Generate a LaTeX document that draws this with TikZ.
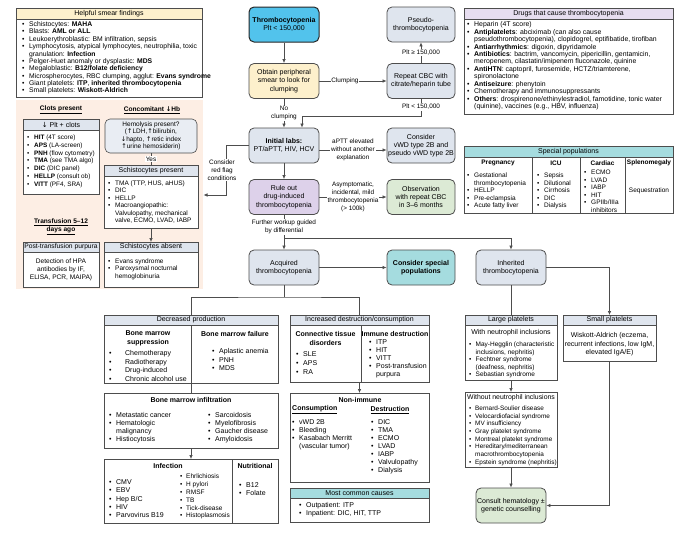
\documentclass[tikz,border=0pt]{standalone}
\usepackage{fontspec}
\setmainfont{Liberation Sans}
\newfontfamily\arrfont{DejaVu Sans}
\usetikzlibrary{arrows.meta,calc}
\definecolor{cblue}{HTML}{52C3EC}
\definecolor{cyel}{HTML}{FDF0CC}
\definecolor{cgray}{HTML}{DFE5EE}
\definecolor{clav}{HTML}{DDD1EA}
\definecolor{clavh}{HTML}{E7DEF0}
\definecolor{cgreen}{HTML}{DCEAD5}
\definecolor{cteal}{HTML}{A5DCDF}
\definecolor{cpeach}{HTML}{FDEEE4}
\definecolor{cline}{HTML}{4D4D4D}
\newcommand{\fsz}[2]{\fontsize{#1}{#2}\selectfont}
\newcommand{\myb}[1][7pt]{\makebox[#1][l]{\textbullet}}
\newcommand{\myi}[1][7pt]{\hspace*{#1}}
\newcommand{\rbox}[6][]{\node[inner sep=0pt,outer sep=0pt,minimum width={#4-#2},minimum height={#5-#3},#1] (#6) at ({(#2+#4)/2},{(#3+#5)/2}) {};}
\begin{document}
\begin{tikzpicture}[x=1pt,y=-1pt,
 flowbox/.style={draw=cline, line width=0.8pt, rounded corners=5pt, minimum height=35pt, align=center, font=\fsz{7}{8.2}, inner sep=1pt},
 boxframe/.style={draw=cline, line width=0.6pt, fill=white},
 hdrbox/.style={draw=cline, line width=0.6pt, fill=cgray},
 listnode/.style={anchor=north west, inner sep=0pt, align=left},
 ctrnode/.style={inner sep=0pt, align=center},
 edgelabel/.style={font=\fsz{6.4}{8}, align=center, fill=white, inner sep=0.8pt},
 arrowline/.style={draw=cline, line width=0.7pt, -{Latex[length=4pt,width=3.6pt]}},
 plainline/.style={draw=cline, line width=0.7pt},
 divline/.style={draw=cline, line width=0.6pt}]
\useasboundingbox (0,0) rectangle (680,536);
% peach background
\rbox[fill=cpeach]{16}{100}{203}{289}{PCH}
% smear findings
\rbox[boxframe]{16}{8}{202}{97}{SM}
\rbox[hdrbox,fill=cyel]{16}{8}{202}{19}{SMh}
\node[ctrnode,font=\fsz{7}{8}] (SMt) at (SMh) {Helpful smear findings};
\node[listnode,font=\fsz{6.8}{7.35}] (SMl) at (22,21.3) {\strut\myb Schistocytes: \textbf{MAHA}\\
\myb Blasts: \textbf{AML or ALL}\\
\myb Leukoerythroblastic: BM infiltration, sepsis\\
\myb Lymphocytosis, atypical lymphocytes, neutrophilia, toxic\\
\myi granulation: \textbf{Infection}\\
\myb Pelger-Huet anomaly or dysplastic: \textbf{MDS}\\
\myb Megaloblastic: \textbf{B12/folate deficiency}\\
\myb Microspherocytes, RBC clumping, agglut: \textbf{Evans syndrome}\\
\myb Giant platelets: \textbf{ITP}, \textbf{inherited thrombocytopenia}\\
\myb Small platelets: \textbf{Wiskott-Aldrich}};
% drugs
\rbox[boxframe]{464}{8}{673}{114}{DR}
\rbox[hdrbox,fill=clavh]{464}{8}{673}{19}{DRh}
\node[ctrnode,font=\fsz{7}{8}] (DRt) at (DRh) {Drugs that cause thrombocytopenia};
\node[listnode,font=\fsz{6.9}{7.45}] (DRl) at (467,21.25) {\strut\myb Heparin (4T score)\\
\myb\textbf{Antiplatelets}: abciximab (can also cause\\
\myi pseudothrombocytopenia), clopidogrel, eptifibatide, tirofiban\\
\myb\textbf{Antiarrhythmics}: digoxin, dipyridamole\\
\myb\textbf{Antibiotics}: bactrim, vancomycin, pipericillin, gentamicin,\\
\myi meropenem, cilastatin/imipenem fluconazole, quinine\\
\myb\textbf{AntiHTN}: captopril, furosemide, HCTZ/triamterene,\\
\myi spironolactone\\
\myb\textbf{Antiseizure}: phenytoin\\
\myb Chemotherapy and immunosuppressants\\
\myb\textbf{Others}: drospirenone/ethinylestradiol, famotidine, tonic water\\
\myi (quinine), vaccines (e.g., HBV, influenza)};
% special populations
\rbox[boxframe]{464}{146}{673}{213}{SPP}
\rbox[hdrbox,fill=cteal]{464}{146}{673}{157}{SPPh}
\node[ctrnode,font=\fsz{7}{8}] (SPPt) at (SPPh) {Special populations};
\draw[divline] ($(SPPh.south west)+(68,0)$) -- ($(SPP.south west)+(68,0)$);
\draw[divline] ($(SPPh.south west)+(116,0)$) -- ($(SPP.south west)+(116,0)$);
\draw[divline] ($(SPPh.south west)+(161,0)$) -- ($(SPP.south west)+(161,0)$);
\node[ctrnode,font=\bfseries\fsz{6.5}{7.5}] (cPh) at (498,163) {Pregnancy};
\node[ctrnode,font=\bfseries\fsz{6.5}{7.5}] (cIh) at (556,163) {ICU};
\node[ctrnode,font=\bfseries\fsz{6.5}{7.5}] (cCh) at (602.5,163) {Cardiac};
\node[ctrnode,font=\bfseries\fsz{6.5}{7.5}] (cSh) at (649,163) {Splenomegaly};
\node[listnode,font=\fsz{6.5}{7.5}] (cPl) at (467,172.1) {\strut\myb Gestational\\\myi thrombocytopenia\\\myb HELLP\\\myb Pre-eclampsia\\\myb Acute fatty liver};
\node[listnode,font=\fsz{6.5}{7.5}] (cIl) at (537,172.1) {\strut\myb Sepsis\\\myb Dilutional\\\myb Cirrhosis\\\myb DIC\\\myb Dialysis};
\node[listnode,font=\fsz{6.5}{7.5}] (cCl) at (584,169.1) {\strut\myb ECMO\\\myb LVAD\\\myb IABP\\\myb HIT\\\myb GPIIb/IIIa\\\myi inhibitors};
\node[ctrnode,font=\fsz{6.5}{7.5}] (cSl) at (649,191) {Sequestration};
% clots / hemolysis
\node[ctrnode,font=\bfseries\fsz{6.6}{8}] (CPt) at (61,110) {\underline{Clots present}};
\node[ctrnode,font=\bfseries\fsz{6.6}{8}] (CHt) at (152,110) {\underline{Concomitant {\arrfont\bfseries ↓}Hb}};
\rbox[boxframe]{23}{119}{99}{194}{CL}
\rbox[hdrbox]{23}{119}{99}{130}{CLh}
\node[ctrnode,font=\fsz{7}{8}] (CLt) at (CLh) {{\arrfont ↓} Plt + clots};
\node[listnode,font=\fsz{6.4}{7.8}] (CLl) at (27,133.8) {\strut\myb\textbf{HIT} (4T score)\\
\myb\textbf{APS} (LA-screen)\\
\myb\textbf{PNH} (flow cytometry)\\
\myb\textbf{TMA} (see TMA algo)\\
\myb\textbf{DIC} (DIC panel)\\
\myb\textbf{HELLP} (consult ob)\\
\myb\textbf{VITT} (PF4, SRA)};
\node[draw=cline, line width=0.6pt, rounded corners=5pt, fill=cgray!70, minimum width=92pt, minimum height=34pt, inner sep=0pt, align=center, font=\fsz{6.5}{7.4}] (HEM) at (151,136) {Hemolysis present?\\({\arrfont ↑}LDH,{\arrfont ↑}bilirubin,\\{\arrfont ↓}hapto, {\arrfont ↑}retic index\\{\arrfont ↑}urine hemosiderin)};
\rbox[boxframe]{104}{165}{198}{228}{SPR}
\rbox[hdrbox]{104}{165}{198}{176}{SPRh}
\node[ctrnode,font=\fsz{7}{8}] (SPRt) at (SPRh) {Schistocytes present};
\node[listnode,font=\fsz{6.5}{7.4}] (SPRl) at (108,180.15) {\strut\myb TMA (TTP, HUS, aHUS)\\\myb DIC\\\myb HELLP\\\myb Macroangiopathic:\\\myi Valvulopathy, mechanical\\\myi valve, ECMO, LVAD, IABP};
\rbox[boxframe]{104}{242}{198}{287}{SAB}
\rbox[hdrbox]{104}{242}{198}{252}{SABh}
\node[ctrnode,font=\fsz{7}{8}] (SABt) at (SABh) {Schistocytes absent};
\node[listnode,font=\fsz{6.5}{7.4}] (SABl) at (108,258.15) {\strut\myb Evans syndrome\\\myb Paroxysmal nocturnal\\\myi hemoglobinuria};
\draw[plainline] (HEM) -- node[edgelabel] (lyes) {Yes} (SPRh);
\draw[arrowline] (SPR) -- (SABh);
\node[ctrnode,font=\bfseries\fsz{6.6}{8.3}] (TRt) at (61,227) {\underline{Transfusion 5–12}\\\underline{days ago}};
\rbox[boxframe]{23}{242}{99}{287}{PTP}
\rbox[hdrbox]{23}{242}{99}{252}{PTPh}
\node[ctrnode,font=\fsz{6.7}{8}] (PTPt) at (PTPh) {Post-transfusion purpura};
\node[ctrnode,font=\fsz{6.6}{8}] (PTPb) at (61,269.5) {Detection of HPA\\antibodies by IF,\\ELISA, PCR, MAIPA)};
% decreased production
\rbox[boxframe]{104}{325}{278}{383}{DPb}
\rbox[hdrbox]{104}{315}{278}{325}{DPh}
\node[ctrnode,font=\fsz{7}{8}] (DPt) at (DPh) {Decreased production};
\draw[divline] (DPh.south) -- (DPb.south);
\node[ctrnode,font=\bfseries\fsz{7}{8.6}] (BMS) at (148,338.5) {Bone marrow\\suppression};
\node[listnode,font=\fsz{7}{8.6}] (BMSl) at (109,349.5) {\strut\myb[16pt]Chemotherapy\\\myb[16pt]Radiotherapy\\\myb[16pt]Drug-induced\\\myb[16pt]Chronic alcohol use};
\node[ctrnode,font=\bfseries\fsz{7}{8}] (BMF) at (235,334) {Bone marrow failure};
\node[listnode,font=\fsz{7}{8.4}] (BMFl) at (212,347.6) {\strut\myb Aplastic anemia\\\myb PNH\\\myb MDS};
\rbox[boxframe]{104}{393}{278}{448}{BMI}
\node[ctrnode,font=\bfseries\fsz{7}{8}] (BMIt) at (191,399.5) {Bone marrow infiltration};
\node[listnode,font=\fsz{7}{8}] (BMIl) at (109,411.9) {\strut\myb Metastatic cancer\\\myb Hematologic\\\myi malignancy\\\myb Histiocytosis};
\node[listnode,font=\fsz{7}{8}] (BMIr) at (208,411.9) {\strut\myb Sarcoidosis\\\myb Myelofibrosis\\\myb Gaucher disease\\\myb Amyloidosis};
\draw[plainline] (DPb) -- (BMI);
\rbox[boxframe]{104}{459}{278}{523}{INF}
\draw[divline] ($(INF.north west)+(128,0)$) -- ($(INF.south west)+(128,0)$);
\node[ctrnode,font=\bfseries\fsz{7}{8}] (INFt) at (168,466) {Infection};
\node[ctrnode,font=\bfseries\fsz{7}{8}] (NUTt) at (255,466) {Nutritional};
\node[listnode,font=\fsz{7}{8.2}] (INFl) at (109,478.8) {\strut\myb CMV\\\myb EBV\\\myb Hep B/C\\\myb HIV\\\myb Parvovirus B19};
\node[listnode,font=\fsz{6.5}{7.8}] (INFr) at (180,473.2) {\strut\myb[6pt]Ehrlichiosis\\\myb[6pt]H pylori\\\myb[6pt]RMSF\\\myb[6pt]TB\\\myb[6pt]Tick-disease\\\myb[6pt]Histoplasmosis};
\node[listnode,font=\fsz{7}{8}] (NUTl) at (239,481.9) {\strut\myb B12\\\myb Folate};
\draw[arrowline] (BMI) -- (INF);
% increased destruction
\rbox[boxframe]{290}{325}{429}{382}{IDb}
\rbox[hdrbox]{290}{315}{429}{325}{IDh}
\node[ctrnode,font=\fsz{7}{8}] (IDt) at (IDh) {Increased destruction/consumption};
\draw[divline] ($(IDb.north west)+(71,0)$) -- ($(IDb.south west)+(71,0)$);
\node[ctrnode,font=\bfseries\fsz{7}{8.6}] (CTt) at (325.5,338.5) {Connective tissue\\disorders};
\node[listnode,font=\fsz{7}{9}] (CTl) at (296,350.2) {\strut\myb SLE\\\myb APS\\\myb RA};
\node[ctrnode,font=\bfseries\fsz{7}{8}] (IMt) at (395,334) {Immune destruction};
\node[listnode,font=\fsz{7}{8}] (IMl) at (369,338.9) {\strut\myb ITP\\\myb HIT\\\myb VITT\\\myb Post-transfusion\\\myi purpura};
\rbox[boxframe]{290}{393}{429}{482}{NI}
\node[ctrnode,font=\bfseries\fsz{7}{8}] (NIt) at (360,400) {Non-immune};
\node[inner sep=0pt,anchor=west,font=\bfseries\fsz{7}{8}] (NIc) at (292,410) {\underline{Consumption}};
\node[ctrnode,font=\bfseries\fsz{7}{8}] (NId) at (390,410) {\underline{Destruction}};
\node[listnode,font=\fsz{7}{8}] (NIcl) at (292,418.9) {\strut\myb vWD 2B\\\myb Bleeding\\\myb Kasabach Merritt\\\myi (vascular tumor)};
\node[listnode,font=\fsz{7}{8}] (NIdl) at (371,418.9) {\strut\myb DIC\\\myb TMA\\\myb ECMO\\\myb LVAD\\\myb IABP\\\myb Valvulopathy\\\myb Dialysis};
\draw[arrowline] (IDb) -- (NI);
\rbox[boxframe]{290}{488}{429}{522}{MC}
\rbox[hdrbox,fill=cteal]{290}{488}{429}{498}{MCh}
\node[ctrnode,font=\fsz{7}{8}] (MCt) at (MCh) {Most common causes};
\node[listnode,font=\fsz{7}{8}] (MCl) at (299,501.9) {\strut\myb Outpatient: ITP\\\myb Inpatient: DIC, HIT, TTP};
% large / small platelets
\rbox[boxframe]{465}{325}{557}{380}{LPb}
\rbox[hdrbox]{465}{315}{557}{325}{LPh}
\node[ctrnode,font=\fsz{7}{8}] (LPt) at (LPh) {Large platelets};
\node[ctrnode,font=\fsz{7}{8}] (LPs) at (511,332.5) {With neutrophil inclusions};
\node[listnode,font=\fsz{6.5}{7.5}] (LPl) at (469,341.1) {\strut\myb[6.5pt]May-Hegglin (characteristic\\\myi[6.5pt]inclusions, nephritis)\\\myb[6.5pt]Fechtner syndrome\\\myi[6.5pt](deafness, nephritis)\\\myb[6.5pt]Sebastian syndrome};
\rbox[boxframe]{465}{392}{557}{467}{WO}
\node[ctrnode,font=\fsz{6.9}{8}] (WOt) at (511,397.5) {Without neutrophil inclusions};
\node[listnode,font=\fsz{6.4}{7.7}] (WOl) at (469,404.9) {\strut\myb[6pt]Bernard-Soulier disease\\\myb[6pt]Velocardiofacial syndrome\\\myb[6pt]MV insufficiency\\\myb[6pt]Gray platelet syndrome\\\myb[6pt]Montreal platelet syndrome\\\myb[6pt]Hereditary/mediterranean\\\myi[6pt]macrothrombocytopenia\\\myb[6pt]Epstein syndrome (nephritis)};
\rbox[boxframe]{563}{325}{656}{361}{SMPb}
\rbox[hdrbox]{563}{315}{656}{325}{SMPh}
\node[ctrnode,font=\fsz{7}{8}] (SMPt) at (SMPh) {Small platelets};
\node[ctrnode,font=\fsz{7}{8.4}] (SMPx) at (609.5,344.5) {Wiskott-Aldrich (eczema,\\recurrent infections, low IgM,\\elevated IgA/E)};
% flow boxes
\node[flowbox, fill=cblue, draw=black!85, line width=1pt, minimum width=70pt] (T) at (284,24.5) {\textbf{Thrombocytopenia}\\Plt < 150,000};
\node[flowbox, fill=cyel, minimum width=70pt] (O) at (284,81) {Obtain peripheral\\smear to look for\\clumping};
\node[flowbox, fill=cgray, minimum width=70pt] (I) at (284,145.5) {\textbf{Initial labs:}\\PT/aPTT, HIV, HCV};
\node[flowbox, fill=clav, minimum width=70pt] (R) at (284,197) {Rule out\\drug-induced\\thrombocytopenia};
\node[flowbox, fill=cgray, minimum width=70pt] (A) at (284,267.5) {Acquired\\thrombocytopenia};
\node[flowbox, fill=cgray, minimum width=68pt] (P) at (421,24.5) {Pseudo-\\thrombocytopenia};
\node[flowbox, fill=cgray, minimum width=68pt] (C) at (421,81) {Repeat CBC with\\citrate/heparin tube};
\node[flowbox, fill=cgray, minimum width=68pt] (V) at (421,145.5) {Consider\\vWD type 2B and\\pseudo vWD type 2B};
\node[flowbox, fill=cgreen, minimum width=68pt] (Ob) at (421,197) {Observation\\with repeat CBC\\in 3–6 months};
\node[flowbox, fill=cteal, minimum width=68pt] (S) at (421,267.5) {\textbf{Consider special}\\\textbf{populations}};
\node[flowbox, fill=cgray, minimum width=70pt] (In) at (511,267.5) {Inherited\\thrombocytopenia};
\node[flowbox, fill=cgreen, minimum width=70pt] (Cons) at (511,505.5) {Consult hematology ±\\genetic counselling};
% connectors
\coordinate (rf) at (203.5,195);
\coordinate (br) at (284,238);
\coordinate (ab) at (284,297);
\draw[arrowline] (T) -- (O);
\draw[arrowline] (O) -- node[edgelabel,pos=0.38] (lcl) {Clumping} (C);
\draw[arrowline] (C) -- node[edgelabel] (lp1) {Plt ≥ 150,000} (P);
\draw[arrowline] (C.south) |- ($(I.north)+(18,-11)$) -- ($(I.north)+(18,0)$);
\node[edgelabel] (lp2) at (421,107) {Plt < 150,000};
\draw[arrowline] (O) -- node[edgelabel] (lnc) {No\\clumping} (I);
\draw[arrowline] (I.west) -- ++(-22,0) |- (rf);
\node[edgelabel] (lrf) at (222,170) {Consider\\red flag\\conditions};
\draw[arrowline] ($(I.east)+(0,4.5)$) -- node[edgelabel] (lap) {aPTT elevated\\without another\\explanation} ($(V.west)+(0,4.5)$);
\draw[arrowline] (I) -- (R);
\draw[arrowline] (R) -- node[edgelabel] (las) {Asymptomatic,\\incidental, mild\\thrombocytopenia\\(> 100k)} (Ob);
\draw[arrowline] (R) -- (A);
\node[edgelabel] (lfw) at (284,227) {Further workup guided\\by differential};
\draw[arrowline] (br) -| (In);
\draw[arrowline] (A) -- (S);
\draw[plainline] (A) -- (ab);
\draw[plainline] (DPh) |- (ab) -| (IDh);
\draw[plainline] (In) -- (LPh);
\draw[arrowline] (In) -| (SMPh);
\draw[arrowline] (LPb) -- (WO);
\draw[arrowline] (WO) -- (Cons);
\draw[arrowline] (SMPb) |- (Cons);
\end{tikzpicture}
\end{document}
